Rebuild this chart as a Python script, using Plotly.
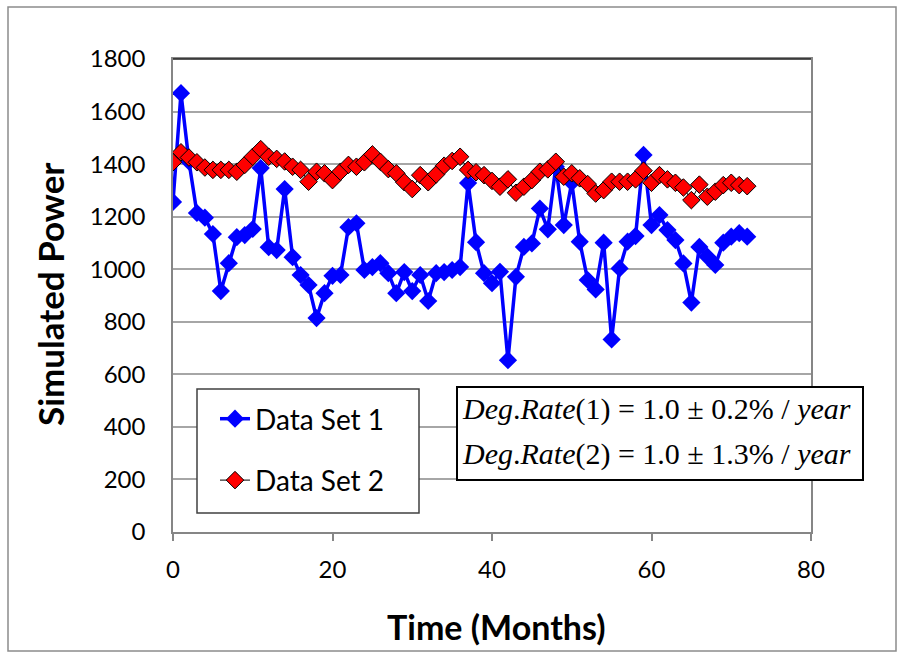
import plotly.graph_objects as go

# Monthly time axis (months 0..72)
months = list(range(73))

# Simulated power, data set 1
power_set1 = [
    1256, 1670, 1410, 1214, 1196, 1134, 917, 1023, 1122, 1130,
    1153, 1385, 1084, 1073, 1305, 1046, 978, 940, 814, 909,
    975, 978, 1160, 1175, 997, 1008, 1023, 985, 909, 989,
    917, 978, 879, 985, 989, 997, 1008, 1328, 1103, 985,
    947, 990, 654, 971, 1085, 1098, 1231, 1152, 1390, 1168,
    1330, 1105, 959, 923, 1101, 733, 1003, 1105, 1126, 1435,
    1168, 1206, 1149, 1111, 1022, 873, 1085, 1048, 1016, 1101,
    1124, 1137, 1124,
]

# Simulated power, data set 2
power_set2 = [
    1407, 1445, 1425, 1407, 1387, 1378, 1378, 1378, 1371, 1397,
    1428, 1457, 1428, 1420, 1410, 1390, 1378, 1333, 1371, 1365,
    1339, 1371, 1397, 1390, 1407, 1437, 1409, 1381, 1365, 1331,
    1305, 1358, 1331, 1361, 1394, 1412, 1428, 1378, 1369, 1358,
    1336, 1314, 1342, 1291, 1314, 1339, 1371, 1380, 1409, 1352,
    1365, 1346, 1324, 1288, 1301, 1333, 1333, 1333, 1342, 1375,
    1329, 1358, 1342, 1329, 1311, 1263, 1322, 1276, 1295, 1320,
    1329, 1320, 1316,
]

series_names = ["Data Set 1", "Data Set 2"]
rate_lines = [
    "<i>Deg</i>.<i>Rate</i>(1) = 1.0 ± 0.2% / <i>year</i>",
    "<i>Deg</i>.<i>Rate</i>(2) = 1.0 ± 1.3% / <i>year</i>",
]

x_ticks = [0, 20, 40, 60, 80]
y_ticks = [0, 200, 400, 600, 800, 1000, 1200, 1400, 1600, 1800]

SANS = "Lato, 'Open Sans', sans-serif"
SERIF = "'Liberation Serif', 'Times New Roman', serif"

fig = go.Figure()
fig.add_trace(go.Scatter(
    x=months, y=power_set1, name=series_names[0], mode="lines+markers",
    line=dict(color="#0000ff", width=3.5),
    marker=dict(symbol="diamond", size=14, color="#0000ff"),
    legendgroup="a",
))
fig.add_trace(go.Scatter(
    x=months, y=power_set2, name=series_names[1], mode="lines+markers",
    line=dict(color="#000000", width=1),
    marker=dict(symbol="diamond", size=13.5, color="#ff0000",
                line=dict(color="#000000", width=1)),
    legendgroup="b",
))

# plot-area pixel geometry: x 173..811, y 59..532 in a 906x658 page
L, R, T, B = 173, 811, 59, 532
W, H = R - L, B - T


def px(x):
    return (x - L) / W


def py(y):
    return (B - y) / H


shapes = [
    # outer chart border
    dict(type="rect", xref="paper", yref="paper",
         x0=px(8), x1=px(896), y0=py(651), y1=py(7),
         line=dict(color="#8c8c8c", width=1.5), layer="below"),
    # top edge of plot area
    dict(type="line", xref="paper", yref="paper", x0=0, x1=1, y0=1, y1=1,
         line=dict(color="#202020", width=1.5)),
    # legend frame
    dict(type="rect", xref="paper", yref="paper",
         x0=px(197), x1=px(419), y0=py(513), y1=py(389),
         line=dict(color="#404040", width=1.5), fillcolor="white", layer="above"),
    # rate text frame
    dict(type="rect", xref="paper", yref="paper",
         x0=px(457), x1=px(863), y0=py(480), y1=py(387),
         line=dict(color="#000000", width=2), fillcolor="white", layer="above"),
]

annotations = [
    dict(text=rate_lines[0], xref="paper", yref="paper", x=px(460), y=py(409),
         xanchor="left", yanchor="middle", showarrow=False,
         font=dict(family=SERIF, size=30, color="black")),
    dict(text=rate_lines[1], xref="paper", yref="paper", x=px(460), y=py(454),
         xanchor="left", yanchor="middle", showarrow=False,
         font=dict(family=SERIF, size=30, color="black")),
    dict(text="<b>Time (Months)</b>", xref="paper", yref="paper",
         x=px(496), y=py(626), xanchor="center", yanchor="middle",
         showarrow=False, font=dict(family=SANS, size=34, color="black")),
    dict(text="<b>Simulated Power</b>", xref="paper", yref="paper",
         x=px(50), y=py(295), xanchor="center", yanchor="middle",
         textangle=-90, showarrow=False,
         font=dict(family=SANS, size=35, color="black")),
]

fig.update_layout(
    width=906, height=658,
    margin=dict(l=L, r=906 - R, t=T, b=658 - B, pad=0),
    paper_bgcolor="white", plot_bgcolor="white",
    shapes=shapes, annotations=annotations,
    showlegend=True,
    legend=dict(x=px(215), y=py(394), xanchor="left", yanchor="top",
                bgcolor="rgba(0,0,0,0)", borderwidth=0,
                font=dict(family=SANS, size=28, color="black"),
                tracegroupgap=22, itemwidth=30, traceorder="grouped"),
    xaxis=dict(range=[0, 80], tickvals=x_ticks, showgrid=False,
               showline=True, linecolor="#868686", linewidth=1.5,
               ticks="outside", ticklen=7, tickcolor="#868686", tickwidth=1.5,
               ticklabelstandoff=8,
               tickfont=dict(family=SANS, size=24, color="black"),
               zeroline=False, mirror=True),
    yaxis=dict(range=[0, 1800], tickvals=y_ticks, showgrid=True,
               gridcolor="#a6a6a6", gridwidth=1.5,
               showline=True, linecolor="#868686", linewidth=1.5,
               ticks="", ticklabelstandoff=21,
               tickfont=dict(family=SANS, size=24, color="black"),
               zeroline=False, mirror=True),
)

fig.write_html("out.html")
